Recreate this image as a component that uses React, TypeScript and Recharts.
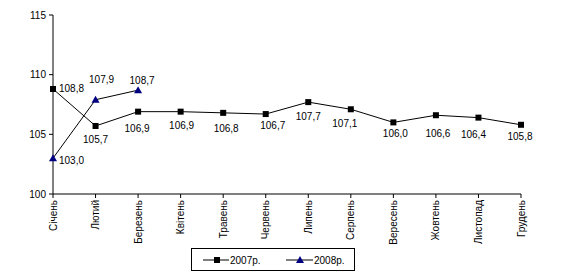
import React from 'react';
import { LineChart, Line, XAxis, YAxis, Legend, LabelList } from 'recharts';

const months = ['Січень', 'Лютий', 'Березень', 'Квітень', 'Травень', 'Червень', 'Липень', 'Серпень', 'Вересень', 'Жовтень', 'Листопад', 'Грудень'];
const values2007 = [108.8, 105.7, 106.9, 106.9, 106.8, 106.7, 107.7, 107.1, 106.0, 106.6, 106.4, 105.8];
const values2008 = [103.0, 107.9, 108.7];
const yTicks = [100, 105, 110, 115];
const seriesNames = ['2007р.', '2008р.'];

const data = months.map((m, i) => ({
  month: m,
  y2007: values2007[i],
  y2008: i < values2008.length ? values2008[i] : null,
}));

const FONT = '"Liberation Sans", Arial, sans-serif';

// label placement relative to each computed point: [dx, dy, anchor]
const labelPos2007: [number, number, string][] = [
  [6, 0, 'start'], [0, 14, 'middle'], [-1, 17, 'middle'], [1, 14, 'middle'], [3, 16, 'middle'], [7, 11, 'middle'],
  [0, 14, 'middle'], [-6, 14, 'middle'], [2, 11, 'middle'], [2, 18, 'middle'], [-5, 17, 'middle'], [-1, 12, 'middle'],
];
const labelPos2008: [number, number, string][] = [
  [6, 2, 'start'], [6, -20, 'middle'], [4, -10, 'middle'],
];

const fmt = (v: number) => v.toFixed(1).replace('.', ',');

const makeLabel = (pos: [number, number, string][]) => (props: any) => {
  const { x, y, value, index } = props;
  if (value == null || x == null || y == null) return null;
  const [dx, dy, anchor] = pos[index] || [0, 14, 'middle'];
  return (
    <text x={x + dx} y={y + dy} textAnchor={anchor as any} dominantBaseline="central" fontSize={10} fontFamily={FONT} fill="#000">
      {fmt(value)}
    </text>
  );
};

const SquareDot = (props: any) => {
  const { cx, cy, key } = props;
  if (cx == null || cy == null) return <g key={key} />;
  return <rect key={key} x={cx - 3} y={cy - 3} width={6} height={6} fill="#000" />;
};

const TriDot = (props: any) => {
  const { cx, cy, key } = props;
  if (cx == null || cy == null) return <g key={key} />;
  return <path key={key} d={`M${cx},${cy - 4}L${cx + 4},${cy + 3}L${cx - 4},${cy + 3}Z`} fill="#000080" />;
};

const XTick = (props: any) => {
  const { x, y, payload } = props;
  return (
    <text x={x} y={y} transform={`rotate(-90, ${x}, ${y})`} textAnchor="end" dy="0.35em" fontSize={10} fontFamily={FONT} fill="#000">
      {payload.value}
    </text>
  );
};

const LegendBox = () => (
  <svg width={165} height={24} style={{ display: 'block' }}>
    <rect x={0.5} y={0.5} width={163} height={22} fill="#fff" stroke="#000" strokeWidth={1} />
    <line x1={12} y1={12} x2={38} y2={12} stroke="#000" strokeWidth={1} />
    <rect x={23} y={9} width={6} height={6} fill="#000" />
    <text x={39} y={12} dominantBaseline="central" fontSize={10} fontFamily={FONT} fill="#000">{seriesNames[0]}</text>
    <line x1={95} y1={12} x2={122} y2={12} stroke="#000" strokeWidth={1} />
    <path d="M109,8L113,15L105,15Z" fill="#000080" />
    <text x={123} y={12} dominantBaseline="central" fontSize={10} fontFamily={FONT} fill="#000">{seriesNames[1]}</text>
  </svg>
);

export default function App() {
  return (
    <div style={{ position: 'absolute', left: 0, top: 0, width: 565, height: 277, background: '#fff' }}>
      <LineChart width={565} height={277} data={data} margin={{ top: 15, right: 44, left: 0, bottom: 33 }}>
        <XAxis
          dataKey="month"
          interval={0}
          tickSize={4}
          tickMargin={2}
          height={50}
          stroke="#000"
          tickLine={{ stroke: '#000' }}
          axisLine={{ stroke: '#000' }}
          tick={<XTick />}
        />
        <YAxis
          domain={[100, 115]}
          ticks={yTicks}
          width={53}
          tickSize={4}
          tickMargin={3}
          interval={0}
          stroke="#000"
          axisLine={{ stroke: '#000' }}
          tickLine={{ stroke: '#000' }}
          tick={{ fontSize: 10, fontFamily: FONT, fill: '#000' }}
        />
        <Legend
          layout="horizontal"
          verticalAlign="middle"
          align="center"
          wrapperStyle={{ left: 191, top: 248, width: 165, height: 24 }}
          content={<LegendBox />}
        />
        <Line
          type="linear"
          dataKey="y2007"
          name={seriesNames[0]}
          stroke="#000"
          strokeWidth={1}
          dot={<SquareDot />}
          activeDot={false}
          isAnimationActive={false}
        >
          <LabelList dataKey="y2007" content={makeLabel(labelPos2007)} />
        </Line>
        <Line
          type="linear"
          dataKey="y2008"
          name={seriesNames[1]}
          stroke="#000"
          strokeWidth={1}
          dot={<TriDot />}
          activeDot={false}
          isAnimationActive={false}
        >
          <LabelList dataKey="y2008" content={makeLabel(labelPos2008)} />
        </Line>
      </LineChart>
    </div>
  );
}
